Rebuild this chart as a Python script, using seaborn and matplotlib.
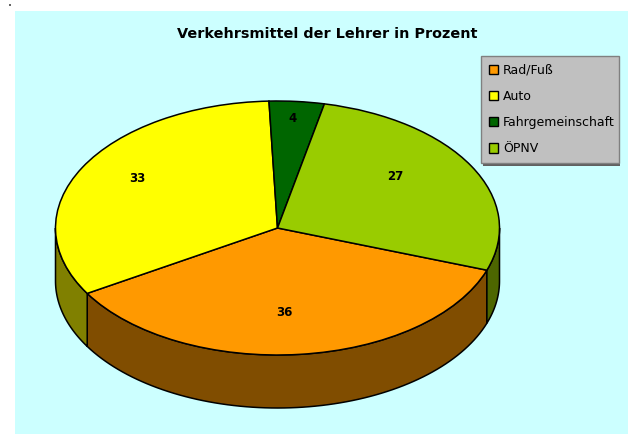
import numpy as np
import matplotlib
matplotlib.use("Agg")
import matplotlib.pyplot as plt
from matplotlib.patches import Patch, Rectangle
import seaborn as sns

categories = ["Rad/Fuß", "Auto", "Fahrgemeinschaft", "ÖPNV"]
values = [36, 33, 4, 27]
face_colors = ["#FF9900", "#FFFF00", "#006600", "#99CC00"]
wall_colors = ["#804D00", "#808000", "#003300", "#4D6600"]
title = "Verkehrsmittel der Lehrer in Prozent"

W, H = 628, 434
sns.set_theme(style="white")
plt.rcParams["font.family"] = ["DejaVu Sans"]

fig = plt.figure(figsize=(W / 100, H / 100), dpi=100, facecolor="white")

def rect(x0, y0, x1, y1):
    return [x0 / W, 1 - y1 / H, (x1 - x0) / W, (y1 - y0) / H]

# background panel in pixel space
bg = fig.add_axes([0, 0, 1, 1], zorder=0)
bg.set_xlim(0, W); bg.set_ylim(H, 0); bg.axis("off")
bg.add_patch(Rectangle((15, 11), W - 15, H - 11, fc="#CCFFFF", ec="none"))
bg.add_patch(Rectangle((9, 4), 1.5, 1.5, fc="#666666", ec="none"))

# pie: axes scaled so the unit circle becomes the ellipse
cx, cy, rx, ry, depth = 277.5, 228, 222, 127, 53
ax = fig.add_axes(rect(cx - rx * 1.2, cy - ry * 1.2, cx + rx * 1.2, cy + ry * 1.2 + depth), zorder=1)
start = -19.4
palette = sns.color_palette(face_colors)
wedges, _ = ax.pie(values, colors=palette, startangle=start, counterclock=False,
                   wedgeprops=dict(edgecolor="black", linewidth=1.1))
ax.set_aspect("auto")
ax.set_xlim(-1.2, 1.2)
d = depth / ry
ax.set_ylim(-1.2 - d, 1.2)

# side wall of the disc
a0 = start
for v, wc in zip(values, wall_colors):
    a1 = a0 - v * 3.6
    lo, hi = max(a1, -180), min(a0, 0)
    if hi > lo:
        t = np.radians(np.linspace(hi, lo, 80))
        xs, ys = np.cos(t), np.sin(t)
        px = np.r_[xs, xs[::-1]]
        py = np.r_[ys, ys[::-1] - d]
        ax.fill(px, py, fc=wc, ec="black", lw=1.1, zorder=0.5)
    a0 = a1
t = np.radians(np.linspace(0, start, 30))
ax.fill(np.r_[np.cos(t), np.cos(t)[::-1]], np.r_[np.sin(t), np.sin(t)[::-1] - d],
        fc=wall_colors[3], ec="black", lw=1.1, zorder=0.5)

# value labels
label_pos = [(284, 312), (137, 178), (293, 118), (395, 176)]
for v, (px_, py_) in zip(values, label_pos):
    fig.text(px_ / W, 1 - py_ / H, str(v), ha="center", va="center",
             fontsize=8.5, fontweight="bold", color="black", zorder=5)

fig.text(327 / W, 1 - 34 / H, title, ha="center", va="center",
         fontsize=10.4, fontweight="bold", color="black", zorder=5)

# legend
handles = [Patch(fc=c, ec="black", lw=1) for c in face_colors]
lax = fig.add_axes(rect(481, 55, 619, 164), zorder=4)
lax.axis("off")
bg.add_patch(Rectangle((483, 57), 137, 108.5, fc="#606060", ec="none"))
leg = lax.legend(handles, categories, loc="center left", bbox_to_anchor=(0, 0, 1, 1),
                 mode="expand", fontsize=9.0, frameon=True, fancybox=False, facecolor="#C0C0C0",
                 edgecolor="#808080", framealpha=1, borderaxespad=0, handlelength=0.75,
                 handleheight=0.75, handletextpad=0.38, labelspacing=1.06, borderpad=0.64,
                 labelcolor="black")
leg.get_frame().set_linewidth(1)

fig.savefig("out.png", dpi=100, facecolor="white")
